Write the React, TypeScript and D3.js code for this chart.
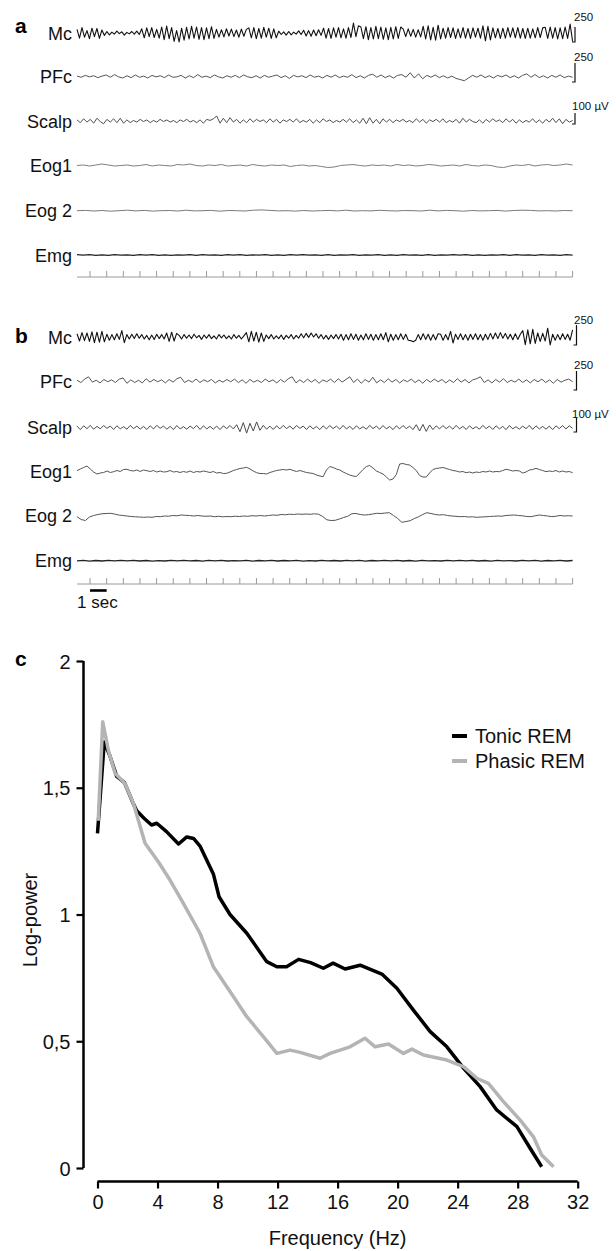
import React, { useEffect, useRef } from 'react';
import * as d3 from 'd3';

// ---- panel a (tonic REM) traces, µV-ish units ----
const mcA = [
  60, -85, 90, -70, 40, -95, 80, -60, 75, -90, 50, -40,
  25, -30, 15, -20, 30, -10, 20, -35, 10, -15, 25, -20, 30, -25,
  70, -80, 85, -60, 90, -75, 60, -85,
  100, -110, 115, -95, 90, -140, 40, -150, 80, -120,
  95, -100, 110, -85, 100, -105, 90, -110, 85, -95, 105, -90,
  60, -70, 55, -65, 70, -50, 65, -60, 50, -70, 65, -55, 60,
  85, -80, 90, -95, 75, -85, 95, -70, 80, -90, 70, -80,
  30, -25, 20, -35, 25, -30, 15, -20, 35, -25,
  45, -50, 40, -55, 50, -45, 55, -40,
  80, -85, 75, -90, 85, -70, 90, -80, 70, -85, 90, -75,
  165, -60, 120,
  100, -95, 105, -110, 90, -100, 110, -95, 100, -105, 85, -110, 95, -100, 105, -90, 100,
  65, -60, 70, -55, 60, -70, 55, -65,
  110, -100, 120, -115, 95, -120, 130, -100,
  80, -85, 90, -75, 85, -90, 70, -80, 90, -85, 75, -90, 85, -70, 80, -85,
  120, -130, 110, -115,
  85, -80, 75, -90, 80, -85, 90, -70, 85, -80, 90, -85, 75, -90, 80, -85, 70, -80, 90, -75, 85,
  95, -90, 100, -85, 90, -100, 85, -95, 100, -90,
  150, -140,
];
const pfcA = [
  5, -10, 15, -5, 10, -15, 5, 20, -10, 25, -5, -20, 10, -15, 20, -10, 5, -20, 15, -5,
  10, -15, 20, -10, -5, 15, -20, 10, -15, 25, -10, 5, -15, 20, -5, -20, 10, -10, 15, -15,
  20, -5, -15, 10, -20, 15, -10, 5, 20, -15, 10, -25, 15, -5, 10, -15, 20, -10, 5, -20,
  15, -10, 20, -15, 5, -10, 25, -15, 10, -20, 15, 30, -10, 20, -15, 10, -20, 15, 25, -10,
  50, -20, 35, -30, 15, -10, 20, -15, 10, -20, 5, -25, -40, -55, -20, 15, -10, 20, -15, 10,
  -20, 15, -5, 20, -15, 10, -20, 15, 35, -10, 25, -15, 10, -20, 15, -10, 20, -15, 5, -10,
];
const scalpA = [
  10, -15, 20, -10, 15, -20, 25, -5, -25, 15, -10, 20, -15, 25, -20, 10, -15, 5, -10, 15,
  -5, 10, -15, 5, -10, 15, -5, 10, -10, 5, -15, 10, -5, 15, -10, 5, -15, 10, -20, 15,
  5, 20, 45, -20, 25, -15, 30, -10, 15, -20, 10, -15, 20, -10, 15, -5, 10, -15, 20, -10,
  15, -20, 10, -5, 15, -10, 20, -15, 5, -10, 15, -20, 10, -15, 20, -5, 10, -15, 5, -10,
  15, -10, 20, -15, 10, -20, 25, -25, 30, -20, 15, -25, 20, -10, 15, -15, 10, -5, 15, -10,
  5, -15, 20, -10, 15, -20, 10, -5, 15, -10, 20, -15, 5, -10, 15, -20, 25, -10, 15, -5,
  -15, 10, -20, 15, -10, 20, -5, 10, -15, 20, -10, 15, -20, 10, -15, 5, -10, 20, -15, 10,
  -20, 15, -10, 25, -15, 20, -25, 15, -10, 5,
];
const eog1A = [
  0, 5, -5, 5, 15, 5, -5, 0, 5, -5, 0, 10, -5, 5, 0, -5, 10, 5, 15, 0,
  -5, 5, 0, 10, -5, 0, 5, -5, 10, 0, -5, 5, 0, 5, -10, 0, 5, -5, 0, -10,
  -20, -15, 0, 5, 10, 0, -5, 5, 0, 5, -5, 10, 0, 5, -5, 0, 10, 5, -5, 0,
  5, -5, 10, 0, -5, 5, 0, -15, -20, -5, 5, 0, 10, -5, 5, 10, 0, 5, 15, 5,
];
const eog2A = [
  0, 3, -3, 2, -5, 0, 5, -2, 3, -4, 0, 2, -3, 5, -2, 0, 3, -5, 2, 0,
  -3, 5, 8, 3, -2, 0, -4, 2, -3, 0, 3, -2, 5, -3, 0, -2, 4, 0, -3, 2,
  0, -3, 5, -2, 3, 0, -5, 2, -2, 0, 3, -4, 2, 5, 3, -2, 0, -3, 2, 0,
];
const emgA = [
  3, -2, 4, -3, 2, -4, 3, -1, 2, -3, 4, -2, 3, -4, 1, -3, 2, -2, 4, -3,
  3, -1, 2, -4, 3, -2, 4, -3, 1, -2, 3, -4, 2, -3, 4, -1, 3, -2, 2, -4,
  3, -3, 1, -2, 4, -3, 2, -1, 3, -4, 2, -3, 4, -2, 1, -3, 3, -4, 2, -2,
  4, -1, 3, -3, 2, -4, 1, -2, 3, -3, 4, -2, 2, -4, 3, -1, 2, -3, 4, -2,
];

// ---- panel b (phasic REM) traces ----
const mcB = [
  40, -50, 55, -45, 50, -55,
  65, -70, 60, -65, 70, -60,
  35, -40, 30, -35, 40, -30, 80, -70,
  30, -25, 35, -20, 40, -15, 30, -25, 20, -35, 25, -30, 35, -20, 30, -25,
  50, -55, 60, -50, 45,
  20, -25, 30, -15, 25, -20, 35, -10, 20, -30, 25, -15, 30, -20, 15, -25, 30, -10, 25, -20, 15, -25, 30, -15, 20, -25, 15,
  55, -60, 70, -50, 60, -65, 50, -55,
  25, -20, 30, -25, 15, -20, 25, -30, 20, -15, 30, -25, 20, -15,
  40, -10, 45, -5, 50, 0, 40, -15, 30, -25, 20, -30, 25, -20, 30, -25,
  35, -40, 30, -35, 40, -30, 35, -40, 25, -35, 40, -30, 35, -40, 30, -35, 40, -35,
  55, -60,
  35, -40, 30, -35, 40, -30, 35, -40, -45, -60, -40, 30, -35, 40, -30, 35, -40, 30, -35, 40,
  35, -40, 30, -35, 70, -75, 35, -30, 40, -35, 30, -40,
  35, -30, 40, -35, 30, -40, 35, -30, 45, -25, 50, -20, 55, -15, 45, -25, 35, -35, 40, -30, 35,
  80, -95, 90, -85, 95, -80,
  50, -55, 45, -50,
  110,
  -100, 35, -40, 30, -35, 40, -30, 35, -40, 90,
];
const pfcB = [
  10, -20, 25, 55, -15, 10, -25, 20, -10, 15, -20, 25, 40, -30, 15, -20, 10, -25, 30, -15,
  20, -10, 15, -25, 20, -15, 30, 50, -20, 10, -15, 25, -20, 15, -10, 20, -25, 10, -15, 20,
  -10, 25, -20, 15, -30, 20, -15, 10, -20, 25, -10, 15, -25, 20, -15, 30, 55, -25, 15, -20,
  25, -15, 20, -30, 15, -10, 25, -20, 30, -15, 20, 55, -20, 25, -30, 20, -15, 50, -25, 15,
  -20, 30, -15, 20, -25, 15, -10, 25, -20, 15, -30, 20, -15, 25, -10, 20, -25, 15, -20, 30,
  -15, 20, -25, 15, 30, 55, -20, 15, -25, 20, -15, 30, -20, 10, -15, 25, -20, 15, -25, 20,
  -10, 25, -20, 15, -30, 20, -15, 10, 25, -10,
];
const scalpB = [
  10, -15, 12, -8, 15, -12, 8, -10, 14, -6, 10, -14, 12, -10, 6, -12, 15, -8, 10, -12,
  8, -14, 12, -10, 15, -6, 10, -12, 8, -15, 14, -10, 6, -12, 10, -8, 15, -14, 12, -10,
  8, -12, 10, -15, 12, -8, 14, -10, 20, -30, 35, -40, 30, -25, 40, -20, 15, -12, 10, -14,
  12, -10, 15, -8, 10, -12, 14, -6, 10, -14, 12, -10, 8, -15, 12, -10, 14, -8, 10, -12,
  15, -10, 8, -14, 12, -10, 6, -12, 15, -8, 10, -12, 14, -10, 8, -15, 12, -10, 14, -8,
  10, -15, 20, -25, 22, -28, 18, -15, 12, -10, 14, -8, 10, -12, 15, -10, 8, -14, 12, -10,
  6, -12, 15, -8, 10, -14, 12, -10, 8, -15, 14, -10, 6, -12, 10, -8, 15, -14, 12, -10,
  8, -12, 10, -15, 12, -8, 14, -10, 12, -6,
];
const eog1B = [
  8, 25, 40, 55, 25, -5, -25, -15, -10, 5, -10, -2, 10, 0, 20, 22, 10, 5, 15, 0,
  15, 8, 0, 10, -5, 5, -5, -2, 10, -5, 0, -10, 0, -8, 5, -10, 0, -5, 5, -2,
  -10, 0, -15, -10, -20, -18, -5, 10, 20, 30, 35, 42, 25, 5, -12, -20, -20, -25, -10, 0,
  10, 15, 20, 15, 22, 10, 0, 10, 0, -10, -15, -20, -35, -45, -52, 15, 50, 40, 25, 15,
  -5, -20, -35, -45, -50, -15, 20, 50, 60, 35, 5, -10, -25, -55, -85, -75, -30, 75, 80, 70,
  65, 40, 10, -40, -55, -55, -15, 20, 30, 35, 40, 30, 20, 10, 5, -5, 0, -12, -5, -15,
  -5, -10, 0, -5, 5, -5, 0, -2, 10, 22, 15, 5, 10, 5, -15, -5, 15, 20, 32, 20,
  10, -2, 5, 0, 10, -5, 5, -5, 0, -12,
];
const eog2B = [
  -12, -40, -50, -15, 0, 10, 17, 20, 22, 15, 5, 0, -5, -10, -13, -15, -18, -15, -18, -10,
  -12, -5, -7, 0, -3, 5, 2, 0, -5, 0, -5, -8, -5, -12, -8, -13, -10, -12, -7, -10,
  -5, -8, -2, -5, 0, -5, 0, 5, 2, 10, 7, 13, 10, 15, 12, 15, 12, 17, 13, -10,
  -43, -50, -48, -35, -20, -8, 18, 20, 10, 5, 8, 15, 22, 20, 25, 28, 0, -30, -68, -60,
  -52, -30, -13, 10, 28, 20, 10, 5, 8, 0, -5, -8, -12, -10, -15, -13, -18, -15, -13, -10,
  -8, -5, -7, 0, 3, 5, 0, -3, -10, -12, -3, 5, 0, -5, -12, -7, 0, -5, -2, -5,
];
const emgB = [
  -2, 3, -4, 2, -3, 4, -1, 3, -2, 4, -3, 2, -4, 1, -3, 3, -2, 4, -1, 2,
  -4, 3, -2, 4, -3, 1, -2, 3, -4, 2, -1, 4, -3, 2, -2, 3, -4, 1, -3, 4,
  -2, 2, -3, 4, -1, 3, -4, 2, -2, 3, -1, 4, -3, 2, -4, 3, -2, 1, -3, 4,
  -2, 3, -1, 4, -3, 2, -4, 3, -2, 1, -3, 4, -2, 3, -4, 2, -1, 3, -3, 2,
];

const channelNames = ['Mc', 'PFc', 'Scalp', 'Eog1', 'Eog 2', 'Emg'];
const scaleBarValues = [250, 250, 100];
const scaleBarLabels = ['250', '250', '100 µV'];
const secondTicks = d3.range(1, 31);

// ---- panel c: power spectra ----
const tonicFreq = [0, 0.45, 0.8, 1.28, 1.8, 2.37, 2.6, 3.1, 3.6, 3.95, 4.6, 5.4, 5.95, 6.4, 6.83, 7.72, 8.1, 8.83, 9.95, 11.28, 11.95, 12.6, 13.4, 14.2, 15.05, 15.7, 16.5, 17.5, 18.95, 19.95, 21.05, 22.17, 23.28, 24.4, 25.5, 26.6, 27.95, 28.83, 29.6];
const tonicPower = [1.32, 1.68, 1.63, 1.545, 1.52, 1.44, 1.41, 1.38, 1.353, 1.36, 1.327, 1.278, 1.306, 1.3, 1.27, 1.16, 1.07, 1.0, 0.926, 0.814, 0.794, 0.794, 0.823, 0.81, 0.788, 0.808, 0.785, 0.8, 0.765, 0.709, 0.623, 0.538, 0.478, 0.393, 0.321, 0.229, 0.163, 0.078, 0.005];
const phasicFreq = [0.05, 0.35, 0.72, 1.17, 1.83, 2.39, 3.17, 4.05, 4.83, 5.6, 6.83, 7.72, 8.83, 9.95, 11.05, 11.95, 12.83, 13.5, 14.83, 15.5, 16.83, 17.83, 18.5, 19.39, 20.39, 20.95, 21.72, 23.28, 24.39, 25.28, 26.05, 27.05, 28.17, 29.05, 29.6, 30.39];
const phasicPower = [1.37, 1.76, 1.649, 1.557, 1.517, 1.439, 1.281, 1.208, 1.136, 1.057, 0.926, 0.794, 0.696, 0.597, 0.518, 0.452, 0.465, 0.456, 0.433, 0.452, 0.478, 0.512, 0.478, 0.489, 0.452, 0.469, 0.446, 0.426, 0.4, 0.354, 0.334, 0.262, 0.189, 0.123, 0.051, 0.005];
const seriesNames = ['Tonic REM', 'Phasic REM'];
const freqTicks = [0, 4, 8, 12, 16, 20, 24, 28, 32];
const powerTicks = [0, 0.5, 1, 1.5, 2];

const FONT = '"Liberation Sans", Arial, Helvetica, sans-serif';

function App() {
  const ref = useRef(null);

  useEffect(() => {
    const svg = d3.select(ref.current);
    svg.selectAll('*').remove();

    const timeX = d3.scaleLinear().domain([0, 30]).range([73.4, 572.6]);
    const tStart = timeX.invert(77);

    const panels = [
      {
        label: 'a', labelY: 33,
        traces: [mcA, pfcA, scalpA, eog1A, eog2A, emgA],
        centers: [33, 76.5, 121, 165.5, 210.7, 255],
        gains: [15 / 250, 19 / 250, 11 / 100, 0.1, 0.1, 0.1],
        colors: ['#111', '#555', '#505050', '#808080', '#7a7a7a', '#222'],
        barX: 575, barBottoms: [42, 82, 124], barTextY: [21, 61, 110],
        axisY: 277,
      },
      {
        label: 'b', labelY: 343,
        traces: [mcB, pfcB, scalpB, eog1B, eog2B, emgB],
        centers: [337, 381, 427.5, 471.5, 515.5, 560.7],
        gains: [20 / 250, 19 / 250, 14 / 100, 0.1, 0.1, 0.1],
        colors: ['#111', '#555', '#4a4a4a', '#555', '#555', '#222'],
        barX: 576.5, barBottoms: [345, 390, 432], barTextY: [323.5, 369, 417.5],
        axisY: 584,
      },
    ];

    panels.forEach((p) => {
      const g = svg.append('g');
      g.append('text')
        .attr('x', 15).attr('y', p.labelY)
        .attr('font-family', FONT).attr('font-weight', 'bold').attr('font-size', 21)
        .text(p.label);

      p.traces.forEach((vals, i) => {
        const idx = d3.scaleLinear().domain([0, vals.length - 1]).range([tStart, 30]);
        const line = d3.line()
          .x((d, j) => timeX(idx(j)))
          .y((d) => p.centers[i] - d * p.gains[i]);
        g.append('path')
          .attr('d', line(vals))
          .attr('fill', 'none')
          .attr('stroke', p.colors[i])
          .attr('stroke-width', i === 0 ? 1.1 : i === 5 ? 1.3 : 1)
          .attr('stroke-linejoin', 'round');

        g.append('text')
          .attr('x', 72).attr('y', p.centers[i] + 6.5)
          .attr('text-anchor', 'end')
          .attr('font-family', FONT).attr('font-size', 18).attr('fill', '#111')
          .text(channelNames[i]);
      });

      // calibration bars
      scaleBarValues.forEach((v, i) => {
        const bottom = p.barBottoms[i];
        const top = bottom - v * p.gains[i];
        g.append('path')
          .attr('d', `M${p.barX - 3},${bottom}H${p.barX}V${top}`)
          .attr('fill', 'none').attr('stroke', '#111').attr('stroke-width', 1.2);
        g.append('text')
          .attr('x', i === 2 ? 572 : 574).attr('y', p.barTextY[i])
          .attr('font-family', FONT).attr('font-size', 11.5).attr('fill', '#111')
          .text(scaleBarLabels[i]);
      });

      // time axis
      g.append('line')
        .attr('x1', 77).attr('x2', timeX(30))
        .attr('y1', p.axisY).attr('y2', p.axisY)
        .attr('stroke', '#9a9a9a').attr('stroke-width', 1);
      g.selectAll('.sec')
        .data(secondTicks)
        .join('line')
        .attr('x1', (d) => timeX(d)).attr('x2', (d) => timeX(d))
        .attr('y1', p.axisY - 6).attr('y2', p.axisY)
        .attr('stroke', '#9a9a9a').attr('stroke-width', 1);
    });

    // 1 sec bar under panel b
    svg.append('line')
      .attr('x1', timeX(1)).attr('x2', timeX(2))
      .attr('y1', 590.5).attr('y2', 590.5)
      .attr('stroke', '#000').attr('stroke-width', 2.6);
    svg.append('text')
      .attr('x', 77).attr('y', 608)
      .attr('font-family', FONT).attr('font-size', 17).attr('fill', '#111')
      .text('1 sec');

    // ---- panel c ----
    const x = d3.scaleLinear().domain([0, 32]).range([97.5, 577.7]);
    const y = d3.scaleLinear().domain([0, 2]).range([1168, 661]);

    svg.append('text')
      .attr('x', 15).attr('y', 666)
      .attr('font-family', FONT).attr('font-weight', 'bold').attr('font-size', 21)
      .text('c');

    const yAxis = svg.append('g').attr('transform', 'translate(83.5,0)')
      .call(d3.axisLeft(y).tickValues(powerTicks).tickSize(7).tickPadding(6)
        .tickFormat((d) => String(d).replace('.', ',')));
    yAxis.select('.domain').attr('d', `M0,${y(2)}V${y(0)}`).attr('stroke-width', 2.5).attr('stroke', '#000');
    yAxis.selectAll('.tick line').attr('stroke-width', 2.2).attr('stroke', '#000');
    yAxis.selectAll('.tick text').attr('font-family', FONT).attr('font-size', 20).attr('fill', '#111').attr('dy', '0.35em');

    const xAxis = svg.append('g').attr('transform', 'translate(0,1181.5)')
      .call(d3.axisBottom(x).tickValues(freqTicks).tickSize(7).tickPadding(6));
    xAxis.select('.domain').attr('d', `M${x(0)},0H${x(32)}`).attr('stroke-width', 2.5).attr('stroke', '#000');
    xAxis.selectAll('.tick line').attr('stroke-width', 2.2).attr('stroke', '#000');
    xAxis.selectAll('.tick text').attr('font-family', FONT).attr('font-size', 20).attr('fill', '#111');

    svg.append('text')
      .attr('x', x(16)).attr('y', 1245)
      .attr('text-anchor', 'middle')
      .attr('font-family', FONT).attr('font-size', 20).attr('fill', '#111')
      .text('Frequency (Hz)');
    svg.append('text')
      .attr('transform', 'translate(37,920) rotate(-90)')
      .attr('text-anchor', 'middle')
      .attr('font-family', FONT).attr('font-size', 20).attr('fill', '#111')
      .text('Log-power');

    const spec = d3.line().x((d) => x(d[0])).y((d) => y(d[1]));
    const series = [
      { pts: d3.zip(tonicFreq, tonicPower), color: '#000' },
      { pts: d3.zip(phasicFreq, phasicPower), color: '#b4b4b4' },
    ];
    series.forEach((s) => {
      svg.append('path')
        .attr('d', spec(s.pts))
        .attr('fill', 'none')
        .attr('stroke', s.color)
        .attr('stroke-width', 3.5)
        .attr('stroke-linejoin', 'round');
    });

    // legend
    series.forEach((s, i) => {
      svg.append('line')
        .attr('x1', 452).attr('x2', 467)
        .attr('y1', 736 + i * 25).attr('y2', 736 + i * 25)
        .attr('stroke', s.color).attr('stroke-width', 4);
      svg.append('text')
        .attr('x', 475).attr('y', 743 + i * 25)
        .attr('font-family', FONT).attr('font-size', 20).attr('fill', '#111')
        .text(seriesNames[i]);
    });
  }, []);

  return (
    <svg
      ref={ref}
      width={616}
      height={1251}
      style={{ position: 'absolute', left: 0, top: 0, background: '#fff' }}
    />
  );
}

export default App;
